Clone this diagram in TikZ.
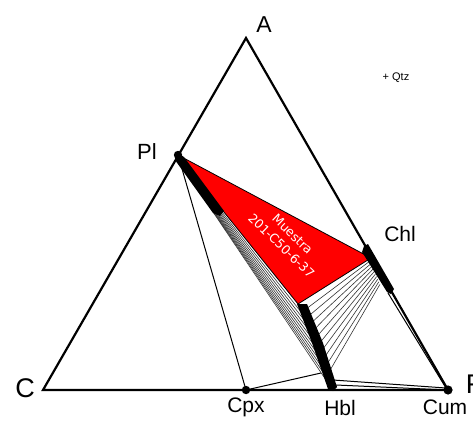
\documentclass[tikz,border=0pt]{standalone}
\usepackage{fontspec}
\setmainfont{Liberation Sans}
\newfontfamily\lblfont{DejaVu Sans}
\usetikzlibrary{calc}
\begin{document}
\begin{tikzpicture}[x=1pt,y=-1pt,
  edge/.style={line width=2.2pt, line join=miter},
  thinline/.style={line width=1pt},
  tie/.style={line width=0.6pt, black!80},
  lbl/.style={inner sep=0pt, font=\fontsize{21}{21}\selectfont},
  biglbl/.style={inner sep=0pt, font=\fontsize{27}{27}\selectfont}]
\useasboundingbox (0,0) rectangle (473,420);
\fill[white] (0,0) rectangle (473,420);
% vertices
\coordinate (A) at (246,38);
\coordinate (C) at (43,390);
\coordinate (F) at (448,390);
\coordinate (Pl) at (178,155);
\coordinate (Cpx) at (246,390);
\coordinate (ChlV) at (371,258);
\coordinate (H0) at (298,304);
\coordinate (H1) at (330,386);
\coordinate (P0) at (181,159);
\coordinate (P1) at (213,212);
\coordinate (H0r) at (306,309);
\coordinate (H1r) at (331,380);
\coordinate (C0) at (370,261);
\coordinate (C1) at (381,287);
\coordinate (HblC) at (321,373);
\coordinate (HblT) at (333,380);
\coordinate (HblB) at (336,385);
\coordinate (ChlB) at (388,293);
\coordinate (Fi) at (446,388);
% red triangle
\filldraw[fill=red, draw=black, line width=0.8pt] (Pl) -- (ChlV) -- (H0) -- cycle;
% fan Pl - Hbl
\foreach \u in {0.1,0.2,...,1.0}
  \draw[tie] ($(P0)!\u!(P1)$) -- ($(H0)!\u!(H1)$);
% tie lines Hbl - Chl
\foreach \u in {0,0.1,...,1.0}
  \draw[tie] ($(H0r)!\u!(H1r)$) -- ($(C0)!\u!(C1)$);
% Pl band
\fill (176,152) -- (184,157) -- (224,211) -- (220,216) -- (213,213) -- (175,160) -- cycle;
% Hbl band
\fill (297,304) -- (307,304) -- (323,343) -- (337,387) -- (333,391) -- (328,389) -- (312,343) -- cycle;
% Chl band
\fill (364,246) -- (368,244) -- (394,289) -- (391,294) -- (387,292) -- (362,252) -- cycle;
% other tie lines
\draw[thinline] (Pl) -- (Cpx);
\draw[thinline] (Cpx) -- (HblC);
\draw[thinline] (HblT) -- (Fi);
\draw[thinline] (HblB) -- (F);
\draw[thinline] (ChlB) -- (Fi);
% triangle
\draw[edge] (A) -- (F) -- (C) -- cycle;
% dots
\fill (Pl) circle (4.2);
\fill (Cpx) circle (4.2);
\fill (F) circle (4.6);
% labels
\node[lbl, font=\fontsize{23}{23}\selectfont] (lA) at (264,25) {A};
\node[lbl, font=\fontsize{22}{22}\selectfont] (lPl) at (147,152) {Pl};
\node[biglbl] (lC) at (25,388) {C};
\node[biglbl] (lF) at (474,384) {F};
\node[lbl] (lCpx) at (246,407) {Cpx};
\node[lbl] (lHbl) at (340,408) {Hbl};
\node[lbl] (lCum) at (445,407) {Cum};
\node[lbl] (lChl) at (400,234) {Chl};
\node[inner sep=0pt, font=\fontsize{11}{11}\selectfont] (lQtz) at (396,78) {+ Qtz};
\node[text=white, rotate=-44, inner sep=0pt, align=center,
  font=\lblfont\fontsize{12.5}{16}\selectfont] (lM) at (287,240) {Muestra\\201-C50-6-37};
\end{tikzpicture}
\end{document}
